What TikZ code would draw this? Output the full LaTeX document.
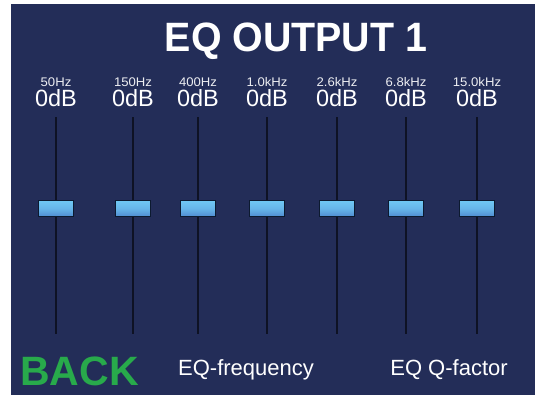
\documentclass[tikz,border=0pt]{standalone}
\usepackage{fontspec}
\setmainfont{Liberation Sans}
\definecolor{panel}{RGB}{35,45,88}
\definecolor{track}{RGB}{14,18,36}
\definecolor{knobedge}{RGB}{12,26,48}
\definecolor{knobtop}{RGB}{112,200,244}
\definecolor{knobbot}{RGB}{80,140,210}
\definecolor{backgreen}{RGB}{40,170,75}
\tikzset{
  freqlabel/.style={text=white!92!panel, inner sep=0pt, anchor=base, font=\fontsize{12.5}{14}\selectfont, xscale=1.05},
  dblabel/.style={text=white, inner sep=0pt, anchor=base, font=\fontsize{23.5}{26}\selectfont},
  trackline/.style={draw=track, line width=1.8pt},
  knob/.style={draw=knobedge, line width=1.6pt, minimum width=35pt, minimum height=16pt, inner sep=0pt, top color=knobtop, bottom color=knobbot, middle color=knobtop!70!knobbot},
  menutext/.style={text=white, inner sep=0pt, anchor=base, font=\fontsize{22}{26}\selectfont},
}
\begin{document}
\begin{tikzpicture}[x=1pt,y=-1pt]
\useasboundingbox (0,0) rectangle (535,397);
\fill[white] (0,0) rectangle (535,397);
\fill[panel] (11,4) rectangle (535,395);
\node[text=white, inner sep=0pt, anchor=base, font=\bfseries\fontsize{41}{44}\selectfont, xscale=0.96] (title) at (296,51) {EQ OUTPUT 1};
\foreach \i/\x/\f in {1/56/50Hz,2/133/150Hz,3/198/400Hz,4/267/1.0kHz,5/337/2.6kHz,6/406/6.8kHz,7/477/15.0kHz}{
  \node[freqlabel] (f\i) at (\x,86) {\f};
  \node[dblabel] (d\i) at (\x,106) {0dB};
  \coordinate (t\i) at (\x,117);
  \coordinate (b\i) at (\x,334);
  \draw[trackline] (t\i) -- (b\i);
  \node[knob] (k\i) at (\x,208.5) {};
}
\node[text=backgreen, inner sep=0pt, anchor=base west, font=\bfseries\fontsize{41}{44}\selectfont] (back) at (20,385) {BACK};
\node[menutext] (eqf) at (246,375) {EQ-frequency};
\node[menutext] (eqq) at (449,375) {EQ Q-factor};
\end{tikzpicture}
\end{document}
